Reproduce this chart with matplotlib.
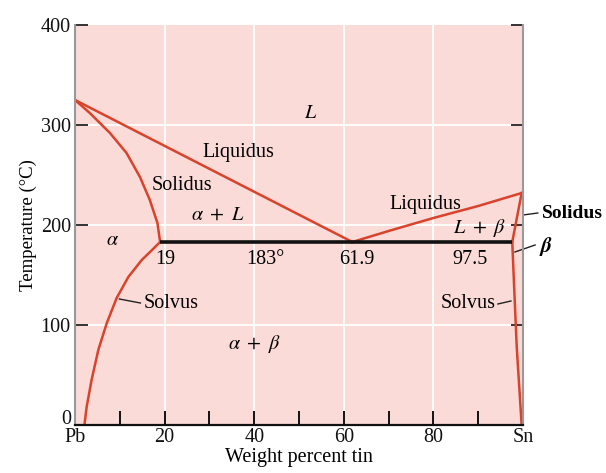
import matplotlib
matplotlib.use("Agg")
import matplotlib.pyplot as plt
import matplotlib.transforms as mtransforms

plt.rcParams['font.family'] = ['Liberation Serif', 'DejaVu Serif']
plt.rcParams['mathtext.fontset'] = 'stix'

# phase boundaries (wt% Sn, deg C)
liq_left_x = [0, 61.9]
liq_left_t = [325, 183]
sol_left_x = [0, 3.3, 7.8, 11.5, 14.5, 16.7, 18.4, 19.0]
sol_left_t = [325, 312, 292, 272, 248, 225, 202, 183]
solv_left_x = [19.0, 17.2, 14.9, 11.9, 9.3, 7.1, 5.2, 3.7, 2.6, 2.1]
solv_left_t = [183, 175, 165, 148, 127, 102, 75, 45, 18, 0]
liq_right_x = [61.9, 70, 80, 90, 99.7]
liq_right_t = [183, 194, 207, 219, 232]
sol_right_x = [97.6, 99.7]
sol_right_t = [183, 232]
solv_right_x = [97.6, 98.1, 98.6, 99.7]
solv_right_t = [183, 130, 78, 0]
eutectic_x = [19.0, 97.6]
eutectic_t = [183, 183]

xticks = [0, 20, 40, 60, 80, 100]
xticklabels = ["Pb", "20", "40", "60", "80", "Sn"]
yticks = [0, 100, 200, 300, 400]

red = '#d9432b'
fs = 14.5

fig = plt.figure(figsize=(6.06, 4.73), dpi=100)
ax = fig.add_axes([75/606, 48/473, 448/606, 400/473])
ax.set_facecolor('#fadbd7')
ax.set_xlim(0, 100)
ax.set_ylim(0, 400)

for g in [20, 40, 60, 80]:
    ax.axvline(g, color='white', lw=1.3, zorder=0)
for g in [100, 200, 300]:
    ax.axhline(g, color='white', lw=1.3, zorder=0)

ax.plot(liq_left_x, liq_left_t, color=red, lw=1.8)
ax.plot(sol_left_x, sol_left_t, color=red, lw=1.8)
ax.plot(solv_left_x, solv_left_t, color=red, lw=1.8)
ax.plot(liq_right_x, liq_right_t, color=red, lw=1.8)
ax.plot(sol_right_x, sol_right_t, color=red, lw=1.8)
ax.plot(solv_right_x, solv_right_t, color=red, lw=1.8)
ax.plot(eutectic_x, eutectic_t, color='#111111', lw=2.6, solid_capstyle='butt')

# region and point labels
ax.text(52.7, 312, r'$L$', fontsize=fs, ha='center', va='center')
ax.text(36.4, 273, 'Liquidus', fontsize=fs, ha='center', va='center')
ax.text(23.9, 240, 'Solidus', fontsize=fs, ha='center', va='center')
ax.text(31.9, 210, r'$\alpha\ +\ L$', fontsize=fs, ha='center', va='center')
ax.text(8.3, 185, r'$\alpha$', fontsize=fs, ha='center', va='center')
ax.text(20.1, 166, '19', fontsize=fs, ha='center', va='center')
ax.text(42.4, 166, '183°', fontsize=fs, ha='center', va='center')
ax.text(62.9, 166, '61.9', fontsize=fs, ha='center', va='center')
ax.text(88.2, 166, '97.5', fontsize=fs, ha='center', va='center')
ax.text(78.1, 220, 'Liquidus', fontsize=fs, ha='center', va='center')
ax.text(90.2, 197, r'$L\ +\ \beta$', fontsize=fs, ha='center', va='center')
ax.text(40, 81, r'$\alpha\ +\ \beta$', fontsize=fs, ha='center', va='center')

# labels with leader lines
ax.plot([9.9, 14.6], [126, 122], color='#222222', lw=1)
ax.text(15.4, 121, 'Solvus', fontsize=fs, ha='left', va='center')
ax.plot([94.4, 97.3], [121, 124], color='#222222', lw=1)
ax.text(93.8, 122, 'Solvus', fontsize=fs, ha='right', va='center')
ax.plot([100.0, 103.3], [210, 212], color='#222222', lw=1, clip_on=False)
ax.text(104.3, 212, 'Solidus', fontsize=fs - 0.5, ha='left', va='center',
        fontweight='bold', clip_on=False)
ax.plot([98.2, 102.7], [173, 180], color='#222222', lw=1, clip_on=False)
ax.text(103.5, 179, r'$\boldsymbol{\beta}$', fontsize=fs + 1, ha='left',
        va='center', clip_on=False)

ax.set_xticks(range(0, 101, 10))
ax.set_xticklabels([xticklabels[xticks.index(v)] if v in xticks else '' for v in range(0, 101, 10)],
                   fontsize=fs)
ax.set_yticks(yticks)
ax.set_yticklabels([str(v) for v in yticks], fontsize=fs)
ax.tick_params(axis='x', direction='in', length=10, width=1.4, pad=2, colors='#111111')
ax.tick_params(axis='y', direction='in', length=9, width=1.4, pad=3, left=True, right=True,
               colors='#333333', labelcolor='#111111')
# lift the "0" a little so it clears "Pb"
zero_lbl = ax.get_yticklabels()[0]
zero_lbl.set_transform(zero_lbl.get_transform() +
                       mtransforms.ScaledTranslation(0, 6/72, fig.dpi_scale_trans))

ax.spines['top'].set_visible(False)
ax.spines['left'].set_color('#999999')
ax.spines['right'].set_color('#999999')
ax.spines['left'].set_linewidth(1.5)
ax.spines['right'].set_linewidth(1.5)
ax.spines['bottom'].set_color('#111111')
ax.spines['bottom'].set_linewidth(1.6)

ax.set_xlabel('Weight percent tin', fontsize=fs, labelpad=1)
ax.set_ylabel('Temperature (°C)', fontsize=fs - 1, labelpad=3)

fig.savefig('out.png', dpi=100)
